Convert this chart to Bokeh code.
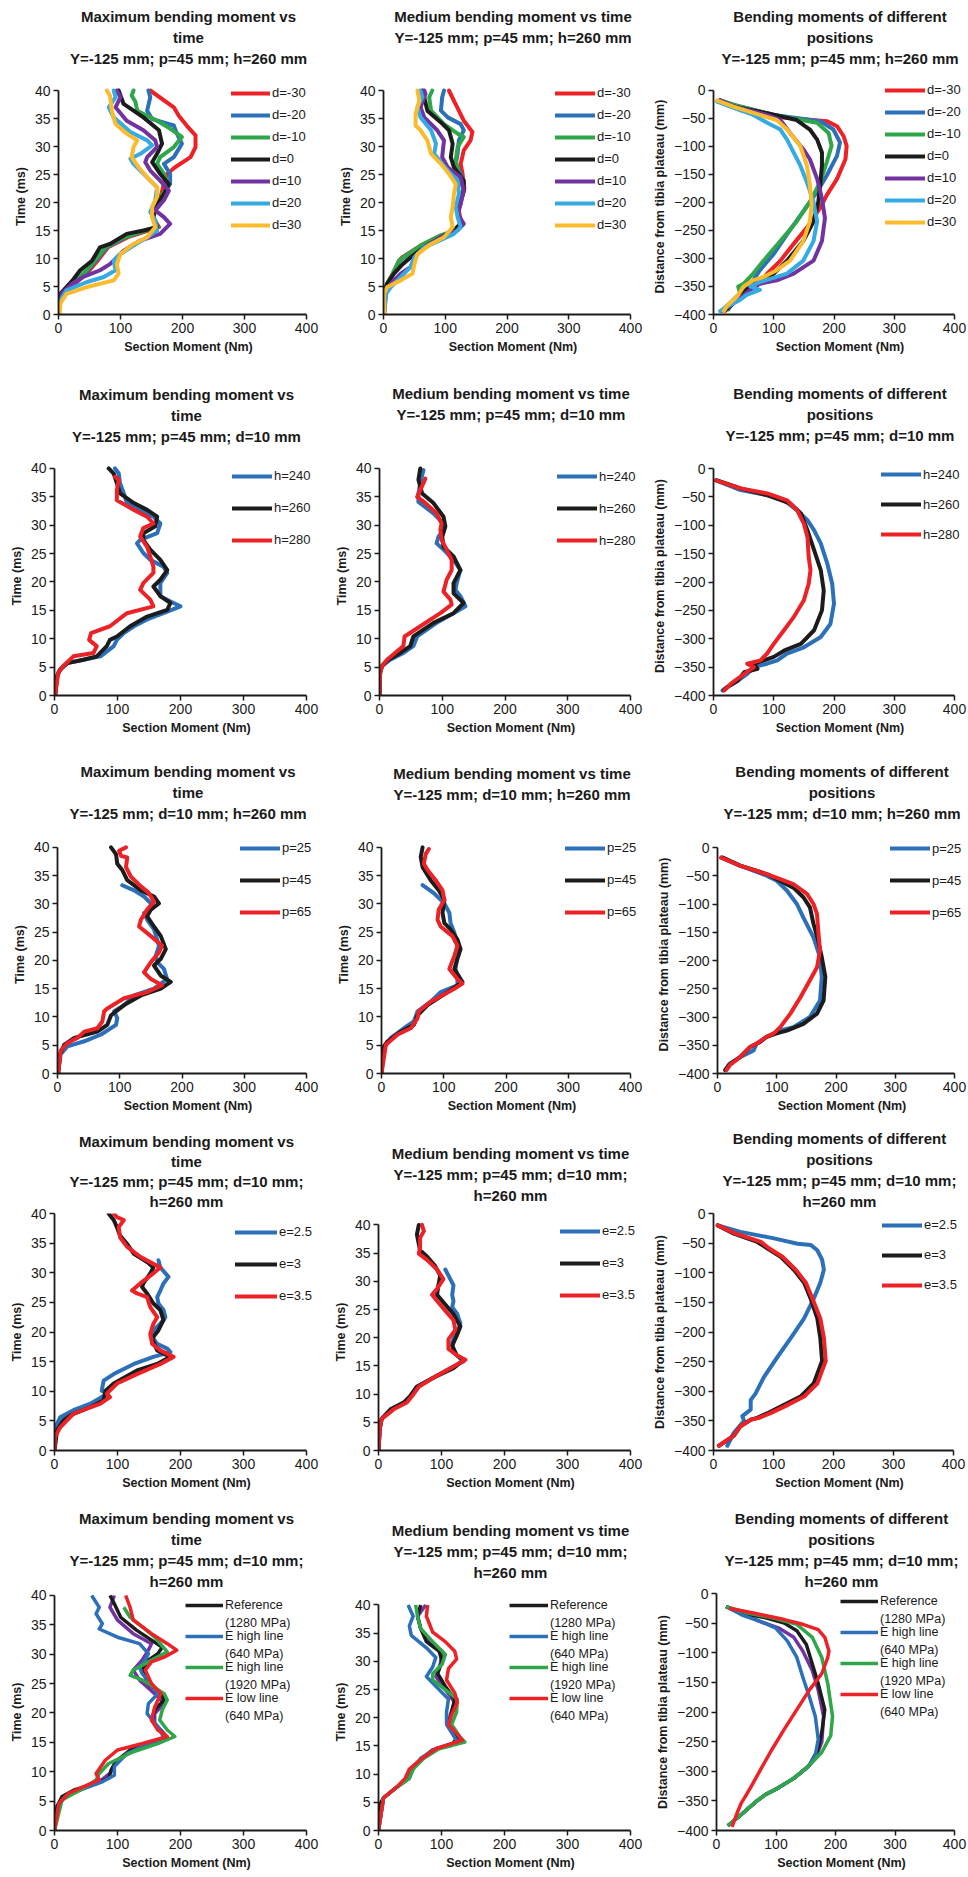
from bokeh.plotting import figure
from bokeh.models import Range1d, FixedTicker, Legend, LegendItem, Title
from bokeh.layouts import column, row
from bokeh.embed import file_html
from bokeh.resources import INLINE

# ---------------- DATA ----------------
d_labels = ["d=-30", "d=-20", "d=-10", "d=0", "d=10", "d=20", "d=30"]
h_labels = ["h=240", "h=260", "h=280"]
p_labels = ["p=25", "p=45", "p=65"]
e_labels = ["e=2.5", "e=3", "e=3.5"]
E_labels_1 = ["Reference", "E high line", "E high line", "E low line"]
E_labels_2 = ["(1280 MPa)", "(640 MPa)", "(1920 MPa)", "(640 MPa)"]
x_ticks = [0, 100, 200, 300, 400]
time_ticks = [0, 5, 10, 15, 20, 25, 30, 35, 40]
dist_ticks = [-400, -350, -300, -250, -200, -150, -100, -50, 0]

# Row 1, max moment vs time, d series (t = time ms, m = moment Nm)
r1c1_t_dm30 = [0, 2.5, 4.3, 6.0, 7.9, 9.6, 12.0, 13.8, 15.0, 15.6, 17.4, 19.2, 21.5, 23.3, 25.1, 26.3, 28.1, 29.9, 32.0, 33.7, 35.5, 37.0, 40]
r1c1_m_dm30 = [0, 3, 12, 32, 50, 63, 80, 112, 145, 162, 152, 156, 166, 170, 175, 188, 213, 221, 221, 207, 194, 186, 148]
r1c1_t_dm20 = [0, 2.5, 4.3, 6.0, 7.9, 9.6, 12.0, 13.8, 15.0, 15.6, 17.4, 19.2, 21.5, 23.3, 25.1, 26.9, 28.1, 30.5, 32.3, 33.75, 34.9, 36.4, 38.8, 40]
r1c1_m_dm20 = [0, 3, 11, 30, 47, 60, 78, 108, 140, 158, 152, 157, 168, 180, 180, 170, 186, 199, 191, 186, 151, 143, 148, 145]
r1c1_t_dm10 = [0, 2.5, 4.3, 6.0, 7.9, 9.6, 12.0, 13.8, 15.0, 15.6, 17.4, 19.2, 21.5, 23.0, 25.1, 26.9, 28.1, 29.9, 31.7, 33.2, 34.6, 36.4, 38.0, 39.1, 40]
r1c1_m_dm10 = [0, 3, 10, 28, 45, 58, 76, 106, 140, 160, 153, 156, 168, 178, 170, 159, 164, 186, 199, 180, 159, 127, 124, 118, 121]
r1c1_t_d0 = [0, 2.5, 3.7, 4.3, 6.0, 7.9, 9.6, 12.0, 12.6, 14.4, 15.0, 15.6, 17.4, 19.8, 21.5, 23.3, 25.1, 27.2, 28.7, 30.5, 32.9, 35.2, 37.6, 40]
r1c1_m_d0 = [0, 1, 3, 8, 22, 35, 54, 67, 83, 110, 137, 159, 153, 159, 170, 178, 164, 151, 159, 167, 162, 137, 105, 97]
r1c1_t_d10 = [0, 1.3, 3.7, 5.5, 6.7, 7.9, 9.0, 11.4, 13.2, 14.4, 16.2, 17.4, 18.6, 20.4, 22.1, 23.9, 25.7, 27.2, 28.1, 29.9, 31.1, 32.9, 34.6, 37.0, 38.8, 40]
r1c1_m_d10 = [0, 2, 5, 22, 40, 67, 83, 105, 132, 164, 180, 170, 156, 170, 178, 164, 148, 140, 143, 159, 156, 137, 110, 92, 100, 94]
r1c1_t_d20 = [0, 2.5, 4.3, 5.8, 6.7, 7.9, 9.6, 10.8, 12.3, 13.8, 15.0, 16.8, 18.3, 20.4, 22.7, 24.5, 26.9, 27.8, 28.7, 30.2, 31.1, 32.6, 35.2, 37.0, 38.8, 40]
r1c1_m_d20 = [0, 3, 13, 46, 73, 92, 89, 100, 121, 143, 159, 156, 148, 156, 159, 143, 121, 116, 132, 151, 143, 116, 89, 81, 92, 89]
r1c1_t_d30 = [0, 2.0, 3.7, 4.9, 6.1, 7.3, 9.0, 10.8, 12.6, 13.8, 15.6, 17.4, 19.2, 21.0, 22.7, 24.5, 26.3, 28.1, 29.9, 31.1, 32.3, 34.0, 36.4, 39.1, 40]
r1c1_m_d30 = [2, 3, 13, 46, 89, 97, 94, 100, 121, 143, 156, 151, 151, 159, 159, 143, 129, 118, 121, 127, 110, 92, 86, 83, 78]

# Row 1, medium moment vs time, d series
r1c2_t_dm30 = [0, 4.3, 5.5, 7.3, 9.6, 10.2, 12.3, 14.1, 15.0, 16.2, 18.6, 20.4, 22.4, 25.1, 26.9, 29.3, 31.1, 32.6, 34.6, 36.4, 38.2, 40]
r1c2_m_dm30 = [0, 1, 6, 15, 25, 30, 60, 93, 117, 126, 122, 126, 131, 128, 125, 130, 141, 144, 130, 122, 114, 106]
r1c2_t_dm20 = [0, 4.3, 5.5, 7.3, 9.6, 10.2, 12.3, 14.1, 15.0, 16.2, 18.6, 20.4, 22.4, 25.1, 26.9, 28.7, 31.1, 32.9, 34.0, 35.2, 36.4, 38.8, 40]
r1c2_m_dm20 = [0, 1, 6, 16, 26, 33, 61, 93, 116, 125, 120, 125, 130, 125, 117, 120, 122, 130, 125, 104, 93, 95, 98]
r1c2_t_dm10 = [0, 4.3, 5.5, 7.3, 9.6, 10.2, 12.3, 14.1, 15.0, 16.2, 18.6, 20.4, 22.4, 25.1, 27.5, 29.9, 31.7, 32.3, 34.0, 36.4, 38.8, 40]
r1c2_m_dm10 = [0, 1, 6, 15, 25, 32, 60, 92, 116, 124, 120, 124, 129, 122, 117, 120, 130, 120, 98, 77, 74, 79]
r1c2_t_d0 = [0, 3.7, 5.5, 7.3, 9.0, 10.2, 12.0, 13.8, 15.0, 16.2, 18.0, 19.8, 22.1, 23.9, 26.3, 28.1, 30.5, 32.9, 34.3, 36.4, 38.8, 40]
r1c2_m_d0 = [0, 1, 6, 17, 31, 44, 66, 93, 114, 125, 120, 122, 130, 130, 114, 109, 112, 106, 93, 71, 66, 63]
r1c2_t_d10 = [0, 3.7, 5.5, 7.3, 8.5, 10.2, 12.0, 13.8, 15.0, 16.2, 18.0, 19.8, 22.1, 24.5, 26.3, 28.1, 31.1, 32.9, 35.2, 37.0, 39.4, 40]
r1c2_m_d10 = [1, 4, 12, 28, 44, 50, 66, 93, 120, 130, 120, 125, 130, 125, 104, 95, 98, 87, 66, 60, 68, 66]
r1c2_t_d20 = [0, 3.7, 4.9, 6.7, 8.5, 10.2, 12.0, 13.3, 14.4, 15.6, 17.4, 19.2, 21.5, 23.9, 25.5, 26.9, 28.7, 30.5, 32.9, 35.2, 37.0, 38.8, 40]
r1c2_m_d20 = [1, 4, 12, 28, 44, 50, 66, 93, 114, 125, 120, 117, 122, 120, 106, 95, 82, 85, 77, 60, 55, 63, 60]
r1c2_t_d30 = [0, 3.7, 4.9, 6.1, 7.3, 9.0, 10.8, 12.6, 13.8, 15.6, 17.4, 19.2, 21.5, 23.3, 25.1, 26.9, 28.7, 31.1, 32.9, 33.75, 35.8, 38.2, 40]
r1c2_m_d30 = [1, 1, 6, 28, 47, 50, 55, 77, 98, 112, 109, 112, 114, 117, 106, 93, 77, 71, 60, 52, 52, 58, 55]

# Row 1, moments along the position, d series (z = distance mm)
r1c3_z_dm30 = [-20, -35, -47, -55, -64, -82, -99, -123, -158, -187, -210, -245, -274, -304, -327, -345, -350, -362, -374, -385, -394]
r1c3_m_dm30 = [8, 44, 100, 188, 205, 216, 221, 219, 205, 188, 177, 155, 133, 111, 89, 77, 66, 55, 39, 28, 19]
r1c3_z_dm20 = [-18, -29, -44, -55, -70, -93, -117, -152, -181, -216, -257, -292, -321, -339, -356, -368, -388, -394]
r1c3_m_dm20 = [11, 44, 100, 177, 199, 210, 205, 188, 172, 149, 122, 100, 77, 66, 50, 39, 19, 14]
r1c3_z_dm10 = [-20, -29, -44, -58, -76, -99, -128, -164, -199, -234, -269, -304, -327, -345, -350, -362, -374, -391]
r1c3_m_dm10 = [14, 44, 100, 172, 191, 196, 188, 177, 160, 138, 111, 83, 66, 50, 41, 44, 33, 25]
r1c3_z_d0 = [-18, -29, -41, -53, -70, -88, -111, -134, -169, -199, -234, -269, -304, -327, -339, -345, -356, -368, -388, -394]
r1c3_m_d0 = [11, 33, 89, 138, 160, 172, 180, 180, 177, 174, 166, 149, 122, 100, 89, 66, 55, 44, 25, 17]
r1c3_z_d10 = [-18, -29, -44, -53, -76, -105, -123, -158, -193, -228, -269, -304, -327, -339, -345, -356, -371, -388, -394]
r1c3_m_d10 = [11, 33, 89, 111, 127, 149, 160, 172, 180, 185, 180, 166, 133, 105, 77, 61, 44, 22, 17]
r1c3_z_d20 = [-20, -29, -44, -58, -70, -88, -111, -134, -164, -199, -234, -269, -304, -327, -333, -342, -350, -356, -365, -374, -388, -394]
r1c3_m_d20 = [6, 28, 66, 89, 111, 122, 133, 144, 155, 166, 172, 166, 149, 122, 105, 77, 61, 77, 55, 44, 19, 11]
r1c3_z_d30 = [-18, -29, -44, -53, -70, -99, -134, -169, -204, -234, -269, -304, -321, -333, -339, -350, -368, -385, -394]
r1c3_m_d30 = [6, 33, 77, 105, 122, 144, 155, 160, 163, 160, 149, 127, 105, 83, 66, 50, 39, 22, 17]

# Row 2, h series
r2c1_t_h240 = [0, 3.4, 4.6, 5.7, 6.3, 6.9, 8.7, 9.8, 11.0, 12.2, 13.4, 14.5, 15.7, 16.3, 17.5, 19.8, 21.6, 22.7, 23.9, 25.1, 26.8, 27.4, 28.6, 30.3, 31.5, 32.7, 33.9, 35.6, 37.4, 39.1, 40]
r2c1_m_h240 = [1, 4, 9, 20, 46, 73, 94, 99, 110, 126, 147, 173, 200, 189, 168, 168, 179, 173, 152, 141, 131, 136, 163, 168, 157, 136, 115, 110, 104, 102, 96]
r2c1_t_h260 = [0, 3.4, 4.6, 5.7, 6.3, 6.9, 8.7, 9.8, 10.4, 12.2, 13.9, 15.1, 16.3, 17.5, 19.2, 20.4, 22.1, 23.9, 25.7, 27.4, 28.6, 29.8, 31.5, 32.7, 33.9, 35.6, 37.4, 39.1, 40]
r2c1_m_h260 = [1, 4, 9, 20, 46, 67, 83, 88, 99, 120, 147, 179, 184, 168, 157, 168, 179, 168, 152, 141, 141, 160, 163, 147, 126, 104, 99, 94, 86]
r2c1_t_h280 = [0, 4.0, 5.2, 6.9, 7.5, 8.7, 9.8, 11.0, 12.2, 14.5, 15.7, 16.9, 18.6, 19.8, 21.6, 22.7, 24.5, 26.2, 28.0, 29.5, 30.3, 31.5, 32.7, 34.4, 36.2, 38.0, 38.5]
r2c1_m_h280 = [1, 6, 14, 30, 62, 67, 55, 58, 88, 115, 157, 152, 136, 141, 157, 157, 152, 147, 136, 141, 157, 147, 126, 99, 99, 102, 96]

r2c2_t_h240 = [0, 4.0, 5.2, 6.3, 7.5, 8.7, 10.4, 12.8, 14.5, 15.7, 17.5, 18.6, 19.8, 22.1, 23.9, 25.7, 26.8, 28.0, 29.2, 30.3, 32.1, 34.1, 35.6, 37.4, 39.7]
r2c2_m_h240 = [0, 1, 4, 17, 38, 54, 60, 91, 118, 137, 129, 121, 123, 129, 118, 102, 91, 94, 102, 102, 86, 62, 62, 65, 70]
r2c2_t_h260 = [0, 4.0, 5.2, 6.3, 7.5, 8.7, 10.4, 12.8, 14.5, 16.3, 18.0, 19.8, 22.1, 24.5, 26.2, 28.0, 29.8, 31.5, 33.9, 35.6, 38.0, 40]
r2c2_m_h260 = [0, 1, 4, 14, 33, 49, 54, 86, 118, 134, 118, 118, 129, 118, 102, 100, 105, 102, 86, 68, 62, 65]
r2c2_t_h280 = [0, 4.0, 5.2, 6.3, 7.8, 8.7, 10.4, 12.2, 14.5, 16.0, 16.9, 18.3, 20.4, 22.1, 23.9, 25.7, 27.4, 29.2, 30.3, 32.1, 34.1, 35.0, 37.4, 38.2]
r2c2_m_h280 = [0, 1, 4, 12, 28, 38, 40, 65, 97, 115, 113, 102, 107, 115, 115, 107, 99, 97, 99, 91, 71, 60, 70, 73]

r2c3_z_h240 = [-21, -38, -47, -56, -74, -91, -109, -132, -168, -203, -238, -274, -297, -315, -326, -338, -344, -350, -362, -374, -385, -391]
r2c3_m_h240 = [4, 45, 89, 117, 139, 156, 167, 178, 189, 197, 200, 194, 178, 150, 122, 106, 89, 67, 56, 40, 23, 15]
r2c3_z_h260 = [-21, -35, -47, -62, -79, -109, -144, -179, -215, -250, -285, -309, -321, -332, -338, -344, -353, -359, -374, -385, -391]
r2c3_m_h260 = [6, 45, 89, 128, 145, 156, 167, 178, 183, 180, 167, 145, 117, 100, 84, 67, 73, 51, 40, 23, 17]
r2c3_z_h280 = [-21, -35, -44, -50, -56, -74, -97, -121, -156, -179, -203, -232, -262, -285, -309, -326, -338, -344, -350, -362, -379, -391]
r2c3_m_h280 = [4, 45, 89, 106, 122, 139, 150, 156, 158, 161, 158, 150, 133, 117, 100, 89, 78, 56, 67, 51, 29, 18]

# Row 3, p series
r3c1_t_p25 = [0, 3.4, 4.8, 5.7, 6.9, 8.6, 9.8, 11.0, 12.1, 13.8, 15.0, 16.7, 18.5, 19.7, 20.8, 22.6, 23.7, 25.5, 27.2, 28.4, 29.2, 30.1, 31.3, 32.4, 33.3]
r3c1_m_p25 = [1, 5, 16, 43, 70, 94, 96, 91, 107, 123, 155, 176, 171, 160, 158, 163, 160, 155, 144, 139, 152, 150, 139, 123, 104]
r3c1_t_p45 = [0, 3.4, 5.1, 6.3, 7.4, 8.6, 10.3, 12.1, 13.8, 15.0, 16.2, 17.3, 19.1, 20.3, 22.0, 24.3, 26.0, 27.8, 29.0, 30.1, 31.3, 32.4, 34.2, 36.0, 37.1, 38.8, 40]
r3c1_m_p45 = [1, 4, 11, 27, 64, 80, 86, 107, 134, 166, 182, 166, 155, 166, 174, 166, 155, 144, 150, 163, 155, 134, 112, 104, 96, 94, 86]
r3c1_t_p65 = [0, 4.0, 5.4, 6.3, 7.4, 8.0, 9.2, 11.0, 11.5, 13.3, 14.4, 15.6, 16.7, 17.9, 19.7, 21.4, 22.6, 24.3, 26.0, 27.2, 29.0, 30.4, 31.9, 33.1, 34.8, 36.5, 38.2, 38.5, 39.4, 40]
r3c1_m_p65 = [1, 5, 16, 32, 43, 64, 72, 75, 80, 107, 144, 168, 150, 139, 150, 163, 168, 150, 131, 134, 144, 155, 147, 134, 118, 110, 112, 102, 99, 110]

r3c2_t_p25 = [0, 4.5, 6.3, 8.0, 9.2, 11.0, 12.7, 14.4, 15.6, 16.7, 18.5, 20.8, 23.1, 24.9, 26.6, 28.4, 30.1, 31.9, 33.3]
r3c2_m_p25 = [0, 4, 15, 36, 52, 58, 79, 95, 122, 122, 119, 122, 122, 117, 111, 109, 101, 84, 66]
r3c2_t_p45 = [0, 4.5, 5.7, 7.4, 8.6, 10.3, 12.1, 14.4, 16.2, 16.7, 18.5, 20.3, 22.0, 23.7, 25.5, 26.6, 28.4, 30.7, 32.4, 34.2, 36.5, 38.3, 40]
r3c2_m_p45 = [0, 2, 10, 31, 52, 58, 74, 106, 130, 127, 117, 122, 127, 122, 111, 101, 98, 101, 92, 79, 66, 63, 66]
r3c2_t_p65 = [0, 5.1, 6.9, 8.0, 9.8, 11.0, 12.7, 15.0, 15.9, 16.7, 18.5, 20.8, 22.6, 24.3, 26.0, 27.2, 29.0, 30.7, 32.4, 34.2, 36.0, 37.1, 38.8, 39.7]
r3c2_m_p65 = [0, 7, 26, 47, 58, 60, 79, 117, 130, 122, 109, 117, 122, 114, 95, 90, 92, 101, 98, 87, 74, 68, 71, 76]

r3c3_z_p25 = [-18, -32, -50, -59, -76, -100, -124, -159, -194, -229, -271, -300, -318, -324, -335, -347, -359, -371, -382, -394]
r3c3_m_p25 = [7, 38, 83, 100, 117, 134, 145, 162, 173, 176, 173, 156, 128, 106, 83, 66, 61, 38, 21, 13]
r3c3_z_p45 = [-18, -32, -47, -59, -71, -88, -106, -135, -165, -194, -229, -271, -294, -312, -324, -329, -335, -344, -353, -371, -385, -394]
r3c3_m_p45 = [9, 38, 83, 106, 128, 145, 156, 162, 170, 176, 182, 179, 168, 145, 117, 100, 83, 72, 55, 38, 19, 13]
r3c3_z_p65 = [-18, -32, -47, -56, -65, -82, -100, -118, -147, -182, -212, -235, -265, -294, -318, -329, -335, -347, -353, -371, -385, -394]
r3c3_m_p65 = [6, 38, 83, 106, 128, 151, 162, 168, 170, 173, 168, 156, 140, 123, 106, 95, 83, 66, 55, 38, 21, 15]

# Row 4, e series
r4c1_t_e25 = [0, 4.5, 5.6, 6.8, 7.9, 9.2, 9.6, 10.1, 11.8, 12.9, 14.6, 15.8, 16.6, 17.2, 18.0, 19.2, 20.3, 21.4, 22.5, 23.7, 24.8, 25.9, 27.0, 28.2, 29.3, 30.9, 32.1]
r4c1_m_e25 = [0, 4, 9, 30, 57, 78, 83, 75, 78, 94, 126, 157, 184, 179, 163, 155, 157, 168, 176, 173, 165, 163, 168, 173, 181, 168, 165]
r4c1_t_e3 = [0, 3.4, 5.1, 6.2, 7.3, 8.5, 10.1, 11.3, 13.5, 14.6, 15.8, 16.9, 18.9, 20.3, 22.0, 23.7, 24.8, 26.5, 27.6, 28.2, 29.9, 30.9, 31.8, 33.2, 34.9, 36.3, 37.7, 38.9, 40]
r4c1_m_e3 = [0, 4, 14, 30, 57, 78, 81, 94, 131, 163, 184, 163, 155, 165, 173, 168, 157, 147, 139, 141, 152, 157, 147, 126, 115, 104, 99, 94, 86]
r4c1_t_e35 = [0, 2.3, 3.9, 6.2, 7.3, 7.9, 9.0, 9.6, 11.3, 12.9, 14.6, 15.8, 16.9, 18.0, 19.7, 21.4, 22.5, 24.2, 25.9, 26.5, 27.0, 28.2, 29.9, 30.9, 31.5, 32.7, 34.4, 36.0, 37.7, 38.9, 39.4, 40]
r4c1_m_e35 = [0, 1, 9, 30, 57, 73, 88, 83, 99, 131, 168, 189, 168, 155, 152, 157, 163, 152, 147, 131, 123, 136, 157, 168, 157, 136, 115, 104, 102, 110, 99, 94]

r4c2_t_e25 = [0, 3.9, 5.6, 7.3, 8.5, 9.6, 11.3, 12.9, 14.6, 15.8, 16.3, 17.5, 19.2, 20.8, 22.5, 24.2, 25.4, 26.5, 27.6, 29.3, 30.4, 32.1]
r4c2_m_e25 = [0, 2, 5, 21, 40, 50, 61, 87, 114, 135, 130, 119, 117, 124, 130, 125, 117, 119, 117, 119, 114, 106]
r4c2_t_e3 = [0, 3.9, 5.6, 7.3, 8.5, 9.6, 11.3, 12.9, 14.6, 16.1, 16.9, 18.6, 20.3, 22.0, 24.2, 25.9, 27.6, 29.3, 31.0, 32.7, 34.4, 35.5, 36.6, 38.3, 40]
r4c2_m_e3 = [0, 2, 5, 19, 40, 50, 61, 87, 119, 135, 124, 117, 124, 130, 119, 106, 93, 95, 98, 90, 77, 66, 64, 61, 64]
r4c2_t_e35 = [0, 3.9, 5.6, 7.3, 8.5, 9.6, 11.3, 12.9, 14.6, 16.1, 16.9, 18.0, 19.7, 21.4, 23.1, 24.8, 26.5, 27.6, 28.7, 30.4, 32.1, 33.8, 34.9, 36.0, 37.7, 38.9, 40]
r4c2_m_e35 = [0, 2, 5, 24, 45, 53, 64, 87, 114, 138, 124, 111, 111, 122, 119, 106, 93, 85, 93, 103, 93, 77, 64, 66, 66, 72, 69]

r4c3_z_e25 = [-20, -31, -42, -51, -53, -62, -78, -95, -117, -144, -177, -210, -243, -276, -304, -315, -331, -342, -350, -370, -392]
r4c3_m_e25 = [7, 45, 101, 140, 162, 173, 181, 184, 178, 167, 151, 129, 106, 84, 70, 62, 62, 48, 51, 34, 23]
r4c3_z_e3 = [-20, -34, -48, -59, -73, -95, -117, -144, -177, -210, -249, -287, -309, -326, -337, -345, -348, -359, -375, -392]
r4c3_m_e3 = [7, 34, 73, 90, 112, 134, 151, 162, 173, 178, 181, 167, 145, 112, 90, 73, 62, 45, 34, 9]
r4c3_z_e35 = [-20, -34, -48, -59, -73, -95, -117, -144, -177, -210, -249, -287, -309, -326, -337, -345, -348, -359, -375, -392]
r4c3_m_e35 = [7, 37, 79, 93, 115, 137, 154, 165, 178, 184, 187, 173, 151, 118, 95, 76, 62, 45, 34, 9]

# Row 5, elastic modulus series (ref = 1280 MPa, hi640, hi1920, lo640, plus an unlabelled purple run)
r5c1_t_ref = [0, 4.1, 5.8, 6.9, 8.0, 8.9, 10.3, 12.0, 13.7, 14.8, 15.7, 17.1, 18.8, 20.5, 22.2, 23.3, 25.0, 27.3, 29.0, 30.1, 31.2, 32.4, 34.1, 36.3, 38.6, 40]
r5c1_m_ref = [0, 4, 12, 31, 66, 86, 90, 100, 120, 149, 177, 167, 154, 159, 174, 169, 149, 139, 149, 164, 171, 154, 130, 105, 95, 88]
r5c1_t_hi640 = [0, 4.4, 5.8, 6.9, 8.3, 9.4, 10.9, 13.1, 14.5, 15.7, 17.7, 19.9, 21.6, 23.3, 25.0, 26.7, 27.8, 29.0, 30.1, 31.8, 32.9, 34.3, 35.2, 36.9, 38.0, 40]
r5c1_m_hi640 = [0, 7, 17, 41, 76, 95, 95, 115, 144, 174, 164, 147, 149, 164, 154, 139, 135, 144, 149, 135, 100, 71, 76, 66, 71, 59]
r5c1_t_hi1920 = [0, 5.2, 6.1, 7.2, 8.6, 9.7, 11.4, 13.4, 14.8, 16.0, 17.1, 18.8, 20.5, 22.2, 23.3, 25.6, 26.4, 27.3, 29.0, 30.4, 32.9, 34.6, 36.3, 38.0]
r5c1_m_hi1920 = [0, 12, 27, 46, 66, 71, 86, 125, 164, 191, 179, 167, 171, 179, 174, 140, 120, 125, 154, 179, 159, 140, 120, 110]
r5c1_t_lo640 = [0, 4.6, 6.3, 7.2, 8.6, 9.7, 12.0, 13.7, 14.8, 16.0, 17.1, 18.8, 21.0, 23.3, 25.0, 27.3, 28.7, 29.5, 30.7, 31.8, 33.5, 35.8, 38.0, 40]
r5c1_m_lo640 = [0, 7, 22, 41, 71, 66, 81, 100, 140, 179, 164, 154, 159, 169, 154, 144, 154, 174, 194, 179, 154, 125, 120, 113]
r5c1_t_extra = [0, 4.1, 5.8, 6.9, 8.3, 9.7, 11.4, 13.1, 14.5, 15.7, 16.5, 18.2, 19.9, 21.6, 23.3, 25.6, 27.3, 29.0, 30.7, 31.8, 33.5, 35.8, 38.0, 40]
r5c1_m_extra = [0, 4, 17, 41, 71, 88, 95, 115, 149, 179, 174, 159, 159, 174, 159, 135, 125, 139, 149, 154, 125, 100, 88, 95]

r5c2_t_ref = [0, 4.6, 5.8, 7.5, 9.2, 10.9, 12.6, 14.3, 15.1, 16.5, 18.8, 21.0, 23.3, 25.6, 27.8, 30.1, 31.8, 33.5, 35.8, 38.0, 40]
r5c2_m_ref = [0, 2, 8, 27, 47, 52, 67, 86, 116, 125, 111, 116, 121, 106, 94, 101, 96, 76, 67, 62, 67]
r5c2_t_hi640 = [0, 5.8, 7.5, 9.2, 10.9, 12.8, 14.5, 15.7, 16.5, 18.8, 21.0, 23.3, 25.6, 27.3, 29.0, 30.7, 32.4, 34.6, 36.3, 38.0, 40]
r5c2_m_hi640 = [0, 8, 27, 47, 55, 67, 91, 125, 121, 108, 108, 111, 91, 76, 86, 91, 76, 52, 49, 55, 47]
r5c2_t_hi1920 = [0, 5.8, 7.5, 9.2, 10.9, 12.8, 14.5, 15.7, 16.5, 18.8, 21.0, 23.3, 25.0, 26.7, 27.8, 29.5, 31.2, 33.5, 35.8, 38.0, 40]
r5c2_m_hi1920 = [0, 8, 27, 49, 55, 72, 96, 137, 130, 116, 124, 125, 106, 86, 86, 101, 106, 86, 67, 62, 59]
r5c2_t_lo640 = [0, 5.8, 7.5, 9.2, 10.9, 12.6, 14.5, 16.0, 17.1, 18.8, 20.5, 22.7, 24.4, 26.7, 28.7, 30.4, 31.8, 33.5, 35.2, 38.0, 40]
r5c2_m_lo640 = [0, 8, 27, 42, 49, 67, 91, 133, 125, 111, 116, 125, 121, 108, 111, 124, 121, 106, 86, 76, 78]
r5c2_t_extra = [0, 5.8, 7.5, 9.2, 10.9, 12.6, 14.5, 15.7, 16.5, 18.8, 20.5, 22.7, 25.0, 27.3, 29.5, 31.8, 33.5, 35.8, 38.0, 40]
r5c2_m_extra = [0, 8, 27, 47, 52, 67, 91, 130, 125, 111, 114, 121, 106, 91, 98, 101, 81, 67, 62, 75]

r5c3_z_ref = [-22, -33, -41, -50, -63, -86, -119, -152, -196, -234, -262, -290, -312, -328, -339, -350, -364, -378, -392]
r5c3_m_ref = [16, 42, 83, 114, 135, 151, 161, 171, 182, 177, 171, 156, 130, 104, 83, 68, 52, 36, 19]
r5c3_z_hi640 = [-22, -36, -47, -58, -80, -108, -141, -174, -207, -246, -273, -290, -312, -328, -339, -350, -364, -378, -392]
r5c3_m_hi640 = [16, 42, 73, 99, 119, 135, 145, 156, 166, 171, 166, 156, 130, 104, 83, 68, 52, 36, 19]
r5c3_z_hi1920 = [-22, -33, -41, -52, -74, -108, -152, -207, -240, -268, -290, -312, -328, -339, -350, -364, -378, -392]
r5c3_m_hi1920 = [16, 52, 94, 135, 161, 177, 187, 195, 192, 177, 156, 130, 104, 83, 68, 52, 36, 19]
r5c3_z_lo640 = [-25, -33, -44, -52, -61, -74, -97, -108, -135, -163, -196, -229, -262, -290, -328, -345, -353, -367, -394]
r5c3_m_lo640 = [21, 62, 114, 145, 171, 182, 189, 187, 177, 156, 135, 114, 94, 78, 57, 47, 42, 36, 26]
r5c3_z_extra = [-22, -33, -47, -58, -74, -97, -130, -163, -207, -251, -279, -295, -312, -328, -339, -350, -364, -378, -392]
r5c3_m_extra = [16, 42, 73, 104, 130, 145, 161, 171, 180, 177, 166, 151, 130, 104, 83, 68, 52, 36, 19]

# ---------------- STYLE ----------------
FONT = "Liberation Sans"
INK = "#1a1a1a"
RED, BLUE, GREEN, BLACK = "#ec2227", "#2b70b8", "#30a64a", "#1c1c1c"
PURPLE, LBLUE, GOLD = "#7233a1", "#36aae2", "#fbbb2d"
TH = 17.0  # estimated title text height


def add_legend(p, fl, fb, rends, labels, gl, c0, sp, gw, gh, font, standoff=2):
    n = len(labels)
    step = int(round(sp))
    gh = min(gh, step)
    gap = step - gh
    c0 = c0 + (n - 1) * (sp - step) / 2.0
    total = n * gh + (n - 1) * gap
    top = c0 - gh / 2.0
    items = [LegendItem(label=labels[i], renderers=[rends[i]]) for i in range(n)]
    legend = Legend(items=items, location=(gl - fl, fb - (top + total)),
                    orientation="vertical", glyph_width=int(gw), glyph_height=int(gh),
                    label_height=int(gh), label_width=10, spacing=int(gap), padding=0, margin=0,
                    label_standoff=int(standoff), border_line_color=None, background_fill_alpha=0,
                    label_text_font=FONT, label_text_font_size=font, label_text_color=INK)
    p.add_layout(legend)


def make_panel(cell, frame, kind, curves, labels, leg, titles, title_ys, title_cx,
               lw=4.0, leg_font="13px", labels2=None, extra=None):
    cl, ct, cr, cb = cell
    fl, ft, fr, fb = frame
    # small extension of the drawing frame past the axis ends so that legend
    # texts are not clipped; the axes themselves stay bounded to the data span
    ex = min(12, cr - fr - 1)
    ey = int(max(0, min(12, ft - title_ys[-1] - 11)))
    x_end = 400.0 * (fr + ex - fl) / (fr - fl)
    if kind == "time":
        yr = Range1d(0, 40 + 40.0 * ey / (fb - ft))
        ybounds = (0, 40)
        yt = time_ticks
        ylab = "Time (ms)"
    else:
        yr = Range1d(-400, 400.0 * ey / (fb - ft))
        ybounds = (-400, 0)
        yt = dist_ticks
        ylab = "Distance from tibia plateau (mm)"
    ft2 = ft - ey
    p = figure(width=cr - cl, height=cb - ct, x_range=Range1d(0, x_end), y_range=yr,
               output_backend="svg", toolbar_location=None, title=None,
               min_border_left=fl - cl, min_border_right=cr - (fr + ex),
               min_border_top=ft2 - ct, min_border_bottom=cb - fb,
               background_fill_color="white", border_fill_color="white")
    p.outline_line_color = None
    p.xgrid.visible = False
    p.ygrid.visible = False
    p.xaxis.ticker = FixedTicker(ticks=x_ticks)
    p.yaxis.ticker = FixedTicker(ticks=yt)
    p.xaxis.bounds = (0, 400)
    p.yaxis.bounds = ybounds
    p.xaxis.axis_label = "Section Moment (Nm)"
    p.yaxis.axis_label = ylab
    for ax in (p.xaxis[0], p.yaxis[0]):
        ax.axis_line_color = INK
        ax.axis_line_width = 1.8
        ax.major_tick_line_color = INK
        ax.major_tick_line_width = 1.5
        ax.major_tick_in = 0
        ax.major_tick_out = 5
        ax.minor_tick_line_color = None
        ax.major_label_text_font = FONT
        ax.major_label_text_font_size = "14px"
        ax.major_label_text_color = INK
        ax.major_label_standoff = 3
        ax.axis_label_text_font = FONT
        ax.axis_label_text_font_size = "12.5px"
        ax.axis_label_text_font_style = "bold"
        ax.axis_label_text_color = INK
        ax.axis_label_standoff = 4

    cap = "butt" if labels2 is not None else "round"
    if extra is not None:
        xs, ys, color = extra
        p.line(xs, ys, line_color=color, line_width=lw, line_join="round", line_cap=cap)
    rends = []
    for xs, ys, color in curves:
        rends.append(p.line(xs, ys, line_color=color, line_width=lw,
                            line_join="round", line_cap=cap))

    gl, c0, sp, gw = leg
    if labels2 is None:
        add_legend(p, fl, fb, rends, labels, gl, c0, sp, gw, 20, leg_font)
    else:
        add_legend(p, fl, fb, rends, labels, gl, c0, sp, gw, 14, leg_font)
        add_legend(p, fl, fb, rends, labels2, gl, c0 + 17.5, sp, 0, 14, leg_font, standoff=gw + 2)

    nt = len(titles)
    spt = (title_ys[-1] - title_ys[0]) / (nt - 1) if nt > 1 else 21.0
    s = max(spt - 2 - TH, 0)
    spacer_h = ft2 - title_ys[-1] - s / 2 - TH / 2
    p.add_layout(Title(text=" ", text_font_size="1px", standoff=int(round(max(spacer_h - 3.2, 0)))), "above")
    fc = (fl + fr + ex) / 2
    for line in reversed(titles):
        p.add_layout(Title(text=line, align="center", offset=title_cx - fc, text_font=FONT,
                           text_font_size="15px", text_font_style="bold", text_color=INK,
                           standoff=int(round(s))), "above")
    return p


COLS = [(0, 322), (322, 645), (645, 968)]
ROWS = [(0, 370), (370, 750), (750, 1120), (1120, 1500), (1500, 1877)]


def cell(r, c):
    return (COLS[c][0], ROWS[r][0], COLS[c][1], ROWS[r][1])


T_MAX = ["Maximum bending moment vs", "time"]
T_MED = ["Medium bending moment vs time"]
T_POS = ["Bending moments of different", "positions"]
S1 = "Y=-125 mm; p=45 mm; h=260 mm"
S2 = "Y=-125 mm; p=45 mm; d=10 mm"
S3 = "Y=-125 mm; d=10 mm; h=260 mm"
S4a = "Y=-125 mm; p=45 mm; d=10 mm;"
S4b = "h=260 mm"

d_cols = [RED, BLUE, GREEN, BLACK, PURPLE, LBLUE, GOLD]
hpe_cols = [BLUE, BLACK, RED]
E_cols = [BLACK, BLUE, GREEN, RED]

p1 = make_panel(cell(0, 0), (58, 90, 306, 314), "time",
                list(zip([r1c1_m_dm30, r1c1_m_dm20, r1c1_m_dm10, r1c1_m_d0, r1c1_m_d10, r1c1_m_d20, r1c1_m_d30],
                         [r1c1_t_dm30, r1c1_t_dm20, r1c1_t_dm10, r1c1_t_d0, r1c1_t_d10, r1c1_t_d20, r1c1_t_d30], d_cols)),
                d_labels, (231, 91, 22.5, 39), T_MAX + [S1], [15, 36, 57], 166)
p2 = make_panel(cell(0, 1), (383, 90, 630, 314), "time",
                list(zip([r1c2_m_dm30, r1c2_m_dm20, r1c2_m_dm10, r1c2_m_d0, r1c2_m_d10, r1c2_m_d20, r1c2_m_d30],
                         [r1c2_t_dm30, r1c2_t_dm20, r1c2_t_dm10, r1c2_t_d0, r1c2_t_d10, r1c2_t_d20, r1c2_t_d30], d_cols)),
                d_labels, (555, 91, 22.5, 40), T_MED + [S1], [15, 36], 490)
p3 = make_panel(cell(0, 2), (713, 90, 954, 318), "pos",
                list(zip([r1c3_m_dm30, r1c3_m_dm20, r1c3_m_dm10, r1c3_m_d0, r1c3_m_d10, r1c3_m_d20, r1c3_m_d30],
                         [r1c3_z_dm30, r1c3_z_dm20, r1c3_z_dm10, r1c3_z_d0, r1c3_z_d10, r1c3_z_d20, r1c3_z_d30], d_cols)),
                d_labels, (885, 93, 22.2, 40), T_POS + [S1], [15, 36, 57], 820)

p4 = make_panel(cell(1, 0), (54, 468, 306, 696), "time",
                list(zip([r2c1_m_h240, r2c1_m_h260, r2c1_m_h280], [r2c1_t_h240, r2c1_t_h260, r2c1_t_h280], hpe_cols)),
                h_labels, (232, 477, 31.7, 40), T_MAX + [S2], [392, 413, 435], 166)
p5 = make_panel(cell(1, 1), (379, 468, 630, 696), "time",
                list(zip([r2c2_m_h240, r2c2_m_h260, r2c2_m_h280], [r2c2_t_h240, r2c2_t_h260, r2c2_t_h280], hpe_cols)),
                h_labels, (557, 477, 32, 40), T_MED + [S2], [392, 413], 490)
p6 = make_panel(cell(1, 2), (713, 468, 954, 695), "pos",
                list(zip([r2c3_m_h240, r2c3_m_h260, r2c3_m_h280], [r2c3_z_h240, r2c3_z_h260, r2c3_z_h280], hpe_cols)),
                h_labels, (881, 474, 30, 40), T_POS + [S2], [394, 415, 435], 820)

p7 = make_panel(cell(2, 0), (57, 847, 306, 1076), "time",
                list(zip([r3c1_m_p25, r3c1_m_p45, r3c1_m_p65], [r3c1_t_p25, r3c1_t_p45, r3c1_t_p65], hpe_cols)),
                p_labels, (240, 850, 32.5, 40), T_MAX + [S3], [772, 793, 813], 172)
p8 = make_panel(cell(2, 1), (381, 847, 630, 1076), "time",
                list(zip([r3c2_m_p25, r3c2_m_p45, r3c2_m_p65], [r3c2_t_p25, r3c2_t_p45, r3c2_t_p65], hpe_cols)),
                p_labels, (565, 850, 32.5, 40), T_MED + [S3], [772, 793], 490)
p9 = make_panel(cell(2, 2), (717, 847, 954, 1073), "pos",
                list(zip([r3c3_m_p25, r3c3_m_p45, r3c3_m_p65], [r3c3_z_p25, r3c3_z_p45, r3c3_z_p65], hpe_cols)),
                p_labels, (890, 848, 32, 40), T_POS + [S3], [772, 793, 813], 822)

p10 = make_panel(cell(3, 0), (54, 1213, 306, 1450), "time",
                 list(zip([r4c1_m_e25, r4c1_m_e3, r4c1_m_e35], [r4c1_t_e25, r4c1_t_e3, r4c1_t_e35], hpe_cols)),
                 e_labels, (235, 1231, 32.5, 42), T_MAX + [S4a, S4b], [1142, 1163, 1183, 1203], 160)
p11 = make_panel(cell(3, 1), (378, 1213, 630, 1450), "time",
                 list(zip([r4c2_m_e25, r4c2_m_e3, r4c2_m_e35], [r4c2_t_e25, r4c2_t_e3, r4c2_t_e35], hpe_cols)),
                 e_labels, (560, 1230, 32.5, 40), T_MED + [S4a, S4b], [1142, 1163, 1183], 483)
p12 = make_panel(cell(3, 2), (713, 1209, 953, 1452), "pos",
                 list(zip([r4c3_m_e25, r4c3_m_e3, r4c3_m_e35], [r4c3_z_e25, r4c3_z_e3, r4c3_z_e35], hpe_cols)),
                 e_labels, (882, 1226, 30.5, 40), T_POS + [S4a, S4b], [1138, 1158, 1179, 1200], 822)

p13 = make_panel(cell(4, 0), (54, 1595, 306, 1831), "time",
                 list(zip([r5c1_m_ref, r5c1_m_hi640, r5c1_m_hi1920, r5c1_m_lo640],
                          [r5c1_t_ref, r5c1_t_hi640, r5c1_t_hi1920, r5c1_t_lo640], E_cols)),
                 E_labels_1, (185, 1606, 31.3, 38), T_MAX + [S4a, S4b], [1519, 1540, 1561, 1582], 159,
                 lw=3.5, leg_font="12.5px", labels2=E_labels_2, extra=(r5c1_m_extra, r5c1_t_extra, PURPLE))
p14 = make_panel(cell(4, 1), (378, 1595, 630, 1831), "time",
                 list(zip([r5c2_m_ref, r5c2_m_hi640, r5c2_m_hi1920, r5c2_m_lo640],
                          [r5c2_t_ref, r5c2_t_hi640, r5c2_t_hi1920, r5c2_t_lo640], E_cols)),
                 E_labels_1, (509, 1606, 31.3, 39), T_MED + [S4a, S4b], [1519, 1540, 1561], 485,
                 lw=3.5, leg_font="12.5px", labels2=E_labels_2, extra=(r5c2_m_extra, r5c2_t_extra, PURPLE))
p15 = make_panel(cell(4, 2), (716, 1588, 954, 1830), "pos",
                 list(zip([r5c3_m_ref, r5c3_m_hi640, r5c3_m_hi1920, r5c3_m_lo640],
                          [r5c3_z_ref, r5c3_z_hi640, r5c3_z_hi1920, r5c3_z_lo640], E_cols)),
                 E_labels_1, (840, 1601, 31.3, 38), T_POS + [S4a, S4b], [1515, 1536, 1557, 1578], 824,
                 lw=3.5, leg_font="12.5px", labels2=E_labels_2, extra=(r5c3_m_extra, r5c3_z_extra, PURPLE))

layout = column(row(p1, p2, p3), row(p4, p5, p6), row(p7, p8, p9),
                row(p10, p11, p12), row(p13, p14, p15))

open("out.html", "w").write(file_html(layout, INLINE, title="Bending moments"))
